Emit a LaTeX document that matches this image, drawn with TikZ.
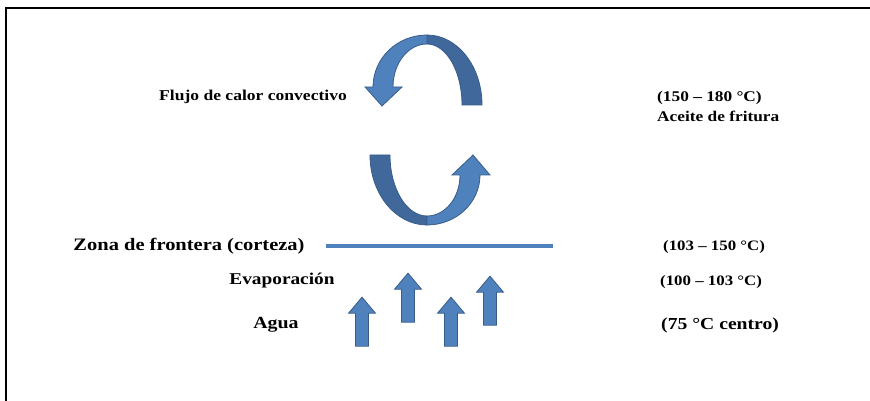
\documentclass[tikz,border=0pt]{standalone}
\usepackage{fontspec}
\setmainfont{Liberation Serif}[FakeStretch=1.17]
\usetikzlibrary{shapes.arrows}
\definecolor{arrowlight}{HTML}{4F81BD}
\definecolor{arrowdark}{HTML}{41689B}
\definecolor{arrowline}{HTML}{385D8A}
\newcommand{\fsz}[1]{\bfseries\fontsize{#1}{20}\selectfont}
\begin{document}
\begin{tikzpicture}[x=1pt,y=1pt,
    label/.style={inner sep=0pt,font=\fsz{15}},
    uparrow/.style={single arrow,rotate=90,fill=arrowlight,draw=arrowline,line width=0.8pt,
        inner xsep=0pt,inner ysep=6pt,minimum width=27pt,minimum height=49pt,
        single arrow head extend=7pt,single arrow tip angle=80},
    ribbon/.style={draw=arrowline,line width=0.8pt}]
    \useasboundingbox (0,0) rectangle (870,401);
    \draw[line width=2pt] (6,0) -- (6,393) -- (870,393);
    % upper curved arrow
    \fill[ribbon,fill=arrowdark] (482,296) arc[start angle=0,end angle=90,x radius=55,y radius=70]
        -- (427,357) arc[start angle=90,end angle=0,x radius=35,y radius=61] -- cycle;
    \fill[ribbon,fill=arrowlight] (427,366) arc[start angle=90,end angle=180,x radius=54,y radius=52]
        -- (365,314) -- (382,295) -- (402,314) -- (393,314)
        arc[start angle=180,end angle=90,x radius=34,y radius=43] -- cycle;
    % lower curved arrow
    \fill[ribbon,fill=arrowdark] (370,246) arc[start angle=180,end angle=270,x radius=57,y radius=70]
        -- (427,185) arc[start angle=270,end angle=180,x radius=37,y radius=61] -- cycle;
    \fill[ribbon,fill=arrowlight] (427,176) arc[start angle=270,end angle=360,x radius=53,y radius=50]
        -- (490,226) -- (473,246) -- (452,226) -- (460,226)
        arc[start angle=0,end angle=-90,x radius=33,y radius=41] -- cycle;
    % boundary line
    \coordinate (bl) at (326,155);
    \coordinate (br) at (553,155);
    \draw[arrowlight,line width=4pt] (bl) -- (br);
    % water arrows
    \node[uparrow] (w1) at (362,75.5) {};
    \node[uparrow] (w2) at (408,99.5) {};
    \node[uparrow] (w3) at (451,75.5) {};
    \node[uparrow] (w4) at (490,96.5) {};
    % labels
    \node[label] (flujo) at (253,304) {Flujo de calor convectivo};
    \node[label,anchor=west,align=left,font=\fsz{14.8}] (aceite) at (657,295) {(150 -- 180 °C)\\Aceite de fritura};
    \node[label,font=\fsz{17.5}] (zona) at (189,155) {Zona de frontera (corteza)};
    \node[label,anchor=west,font=\fsz{14.4}] (t103) at (663,154) {(103 -- 150 °C)};
    \node[label,font=\fsz{16.5}] (evap) at (282,120) {Evaporación};
    \node[label,anchor=west,font=\fsz{14.4}] (t100) at (660,119) {(100 -- 103 °C)};
    \node[label,font=\fsz{17}] (agua) at (276,76) {Agua};
    \node[label,anchor=west,font=\fsz{16.8}] (t75) at (661,76) {(75 °C centro)};
\end{tikzpicture}
\end{document}
